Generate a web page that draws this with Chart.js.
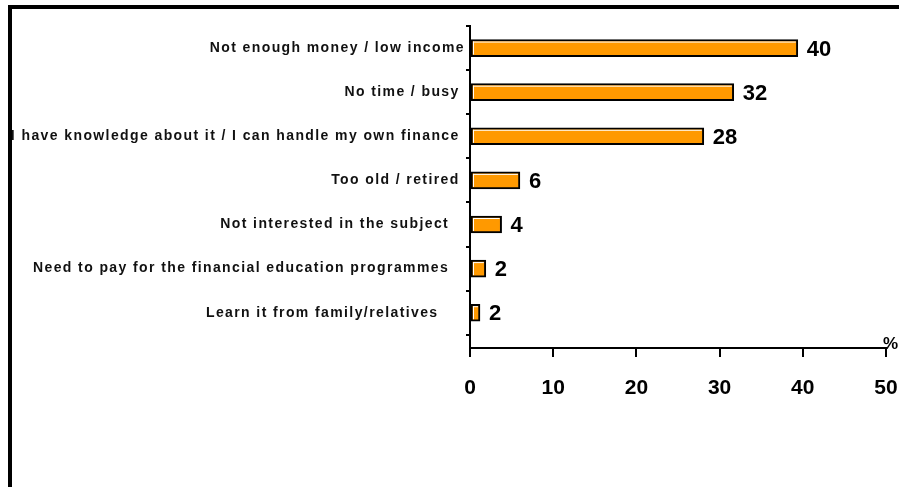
<!DOCTYPE html>
<html>
<head>
<meta charset="utf-8">
<script src="https://cdn.jsdelivr.net/npm/chart.js@4/dist/chart.umd.min.js"></script>
<style>
  html, body { margin: 0; padding: 0; background: #fff; }
  #wrap { position: relative; width: 899px; height: 487px; overflow: hidden; }
  #frame { position: absolute; left: 8px; top: 5px; right: 0; bottom: 0;
           border-left: 4px solid #000; border-top: 4px solid #000; pointer-events: none; z-index: 2; }
  canvas { position: absolute; left: 0; top: 0; }
</style>
</head>
<body>
<div id="wrap">
  <canvas id="c" width="899" height="487"></canvas>
  <div id="frame"></div>
</div>
<script>
// ---- data ----
const categories = [
  'Not enough money / low income',
  'No time / busy ',
  'I have knowledge about it / I can handle my own finance ',
  'Too old / retired ',
  'Not interested in the subject   ',
  'Need to pay for the financial education programmes   ',
  'Learn it from family/relatives     '
];
const values = [39.4, 31.7, 28.1, 6.0, 3.8, 1.9, 1.2];
const valueLabels = ['40', '32', '28', '6', '4', '2', '2'];
const xTicks = [0, 10, 20, 30, 40, 50];
const unitLabel = '%';

const FONT = '"Liberation Sans", Arial, Helvetica, sans-serif';
Chart.defaults.font.family = FONT;

const custom = {
  id: 'custom',
  beforeDraw(chart) { chart.ctx.letterSpacing = '1.4px'; },
  beforeDatasetsDraw(chart) { chart.ctx.letterSpacing = '0px'; },
  afterDatasetsDraw(chart) {
    const ctx = chart.ctx;
    const meta = chart.getDatasetMeta(0);
    ctx.save();
    meta.data.forEach((bar, i) => {
      const p = bar.getProps(['x', 'y', 'base', 'height'], true);
      const top = p.y - p.height / 2;
      const bot = p.y + p.height / 2;
      ctx.strokeStyle = '#fff';
      ctx.lineWidth = 1;
      ctx.beginPath();
      ctx.moveTo(p.base + 2, top + 2.5); ctx.lineTo(p.x - 2, top + 2.5);
      ctx.moveTo(p.base + 2.5, top + 2); ctx.lineTo(p.base + 2.5, bot - 2);
      ctx.stroke();
      ctx.fillStyle = '#000';
      ctx.font = 'bold 22px ' + FONT;
      ctx.textAlign = 'left';
      ctx.textBaseline = 'middle';
      ctx.fillText(valueLabels[i], p.x + 9, p.y + 1.5);
    });
    ctx.font = 'bold 17px ' + FONT;
    ctx.textAlign = 'left';
    ctx.textBaseline = 'middle';
    ctx.fillStyle = '#000';
    ctx.fillText(unitLabel, chart.chartArea.right - 3, chart.chartArea.bottom - 4);
    ctx.restore();
  }
};

new Chart(document.getElementById('c'), {
  type: 'bar',
  data: {
    datasets: [{
      data: values.map((v, i) => ({ x: v, y: i })),
      backgroundColor: '#FF9900',
      borderColor: '#000',
      borderWidth: 2,
      borderSkipped: false,
      barThickness: 17
    }]
  },
  options: {
    indexAxis: 'y',
    responsive: false,
    animation: false,
    devicePixelRatio: 1,
    layout: { padding: { top: 26, right: 13, bottom: 0, left: 0 } },
    plugins: { legend: { display: false }, tooltip: { enabled: false } },
    scales: {
      x: {
        type: 'linear',
        position: 'bottom',
        min: 0, max: 50,
        afterBuildTicks: s => { s.ticks = xTicks.map(v => ({ value: v })); },
        afterFit: s => { s.height = 139; s.paddingLeft = 0; s.paddingRight = 0; },
        ticks: { font: { size: 21, weight: 'bold' }, color: '#000', padding: 19, maxRotation: 0, z: 1 },
        grid: { drawOnChartArea: false, drawTicks: true, tickLength: 9, color: '#000', lineWidth: 2 },
        border: { display: true, color: '#000', width: 2 }
      },
      y: {
        type: 'linear',
        reverse: true,
        offset: false,
        min: -0.5, max: 6.8,
        afterBuildTicks: s => { s.ticks = categories.map((c, i) => ({ value: i })); },
        afterFit: s => { s.width = 470; s.paddingTop = 0; s.paddingBottom = 0; },
        ticks: {
          autoSkip: false,
          callback: v => categories[v],
          font: { size: 14, weight: 'bold' },
          color: '#111',
          padding: 1
        },
        grid: { offset: true, drawOnChartArea: false, drawTicks: true, tickLength: 4, color: '#000', lineWidth: 2 },
        border: { display: true, color: '#000', width: 2 }
      }
    }
  },
  plugins: [custom]
});
</script>
</body>
</html>
